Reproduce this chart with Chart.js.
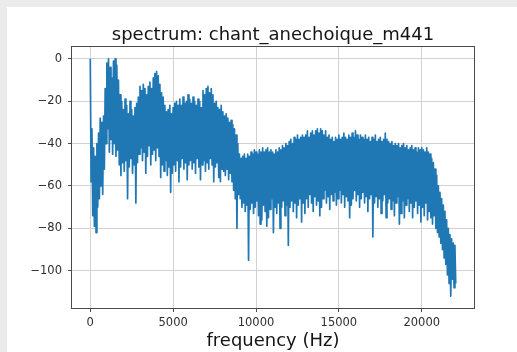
<!DOCTYPE html>
<html>
<head>
<meta charset="utf-8">
<script src="https://cdn.jsdelivr.net/npm/chart.js@4/dist/chart.umd.min.js"></script>
<style>
  html, body { margin: 0; padding: 0; background: #ebebeb; width: 517px; height: 352px; overflow: hidden; }
  #card { position: absolute; left: 7px; top: 7px; width: 510px; height: 345px; background: #ffffff; }
  canvas { display: block; }
</style>
</head>
<body>
<div id="card"><canvas id="spectrum" width="510" height="345"></canvas></div>
<script>
// FFT bin spacing: samples alternate between a local peak and a local dip
const BIN_HZ = 50;

// Magnitude (dB) at the peak bins: 0, 100, 200 ... 22000 Hz
const peakDb = [
  0, -33, -42, -46, -40, -35, -28, -30, -27, -14,
  -2, 0, -4, -9, -1, 0, -3, -10, -17, -20,
  -24, -19, -22, -26, -20, -24, -27, -23, -21, -18,
  -13, -15, -12, -14, -17, -13, -11, -14, -9, -7,
  -6, -8, -12, -16, -18, -22, -25, -24, -22, -26,
  -23, -21, -20, -22, -19, -22, -18, -21, -20, -17,
  -19, -21, -18, -20, -22, -19, -20, -23, -15, -17,
  -14, -13, -16, -14, -17, -21, -20, -23, -24, -22,
  -25, -27, -26, -28, -30, -29, -31, -33, -36, -40,
  -45, -47, -46, -45, -47, -45, -46, -44, -45, -43,
  -44, -45, -43, -44, -42, -44, -43, -42, -44, -43,
  -44, -45, -43, -44, -42, -43, -41, -42, -40, -41,
  -39, -38, -40, -37, -38, -36, -38, -37, -36, -37,
  -36, -34, -37, -35, -34, -36, -34, -33, -35, -33,
  -34, -36, -34, -37, -36, -38, -37, -39, -37, -38,
  -36, -38, -37, -35, -37, -38, -36, -37, -35, -37,
  -34, -36, -38, -36, -37, -38, -36, -38, -37, -39,
  -37, -38, -36, -39, -38, -37, -39, -38, -35, -38,
  -39, -40, -39, -41, -40, -41, -40, -42, -41, -40,
  -42, -41, -43, -42, -41, -43, -42, -44, -42, -43,
  -42, -43, -44, -42, -44, -45, -47, -49, -52, -55,
  -60, -63, -66, -69, -72, -76, -80, -83, -85, -87, -88
];

// Magnitude (dB) at the dip bins: 50, 150, 250 ... 22050 Hz
const dipDb = [
  -58, -74, -79, -82, -70, -66, -60, -64, -52, -40,
  -33, -44, -38, -45, -40, -46, -43, -50, -55, -49,
  -53, -48, -66, -51, -47, -54, -50, -68, -49, -45,
  -42, -48, -44, -54, -46, -41, -50, -45, -43, -48,
  -42, -46, -56, -50, -53, -48, -55, -51, -63, -54,
  -50, -53, -48, -58, -51, -47, -52, -49, -57, -50,
  -48, -52, -49, -54, -47, -51, -57, -50, -48, -53,
  -49, -52, -47, -50, -58, -51, -49, -56, -58, -52,
  -53, -55, -52, -57, -54, -58, -62, -66, -80, -64,
  -66, -70, -68, -72, -69, -95, -71, -68, -73, -70,
  -67, -74, -78, -76, -69, -72, -79, -75, -71, -66,
  -82, -70, -73, -68, -80, -70, -67, -74, -69, -88,
  -70, -67, -72, -68, -75, -69, -66, -77, -68, -73,
  -66, -70, -64, -68, -72, -65, -69, -67, -74, -70,
  -66, -62, -68, -65, -71, -64, -67, -63, -69, -66,
  -62, -68, -64, -70, -65, -67, -75, -69, -66, -62,
  -67, -64, -70, -66, -63, -68, -65, -72, -66, -64,
  -84, -68, -65, -70, -66, -73, -67, -64, -75, -68,
  -66, -71, -67, -74, -68, -65, -78, -73, -67, -75,
  -69, -66, -72, -68, -75, -70, -67, -73, -69, -77,
  -70, -74, -68, -76, -72, -75, -78, -74, -80, -82,
  -84, -87, -90, -94, -97, -102, -106, -112, -104, -108, -106
];

const freqTicks = [0, 5000, 10000, 15000, 20000];
const dbTicks = [-100, -80, -60, -40, -20, 0];

// Interleave peaks and dips into one spectrum trace
const spectrum = [];
for (let i = 0; i < peakDb.length; i++) {
  spectrum.push({ x: (2 * i) * BIN_HZ, y: peakDb[i] });
  spectrum.push({ x: (2 * i + 1) * BIN_HZ, y: dipDb[i] });
}

const FONT = "'DejaVu Sans', sans-serif";

// Dark frame around the plotting area
const axesFrame = {
  id: 'axesFrame',
  afterDatasetsDraw(chart) {
    const { ctx, chartArea: a } = chart;
    ctx.save();
    ctx.strokeStyle = '#4a4a4a';
    ctx.lineWidth = 1;
    ctx.strokeRect(Math.round(a.left) - 0.5, Math.round(a.top) - 0.5,
                   Math.round(a.right - a.left) + 1, Math.round(a.bottom - a.top) + 1);
    ctx.restore();
  }
};

new Chart(document.getElementById('spectrum'), {
  type: 'line',
  data: {
    datasets: [{
      data: spectrum,
      borderColor: '#1f77b4',
      borderWidth: 1.7,
      borderJoinStyle: 'round',
      pointRadius: 0,
      tension: 0,
      fill: false
    }]
  },
  options: {
    responsive: false,
    animation: false,
    devicePixelRatio: 1,
    parsing: false,
    normalized: true,
    layout: { padding: { left: 0, right: 43, top: 0, bottom: 0 } },
    plugins: {
      legend: { display: false },
      tooltip: { enabled: false },
      title: {
        display: true,
        fullSize: false,
        text: 'spectrum: chant_anechoique_m441',
        color: '#151515',
        font: { family: FONT, size: 18, weight: 'normal' },
        padding: { top: 18, bottom: 0.4 }
      }
    },
    scales: {
      x: {
        type: 'linear',
        min: -1102.5,
        max: 23152.5,
        afterBuildTicks: s => { s.ticks = freqTicks.map(v => ({ value: v })); },
        afterFit: s => { s.height = 44; },
        border: { display: false },
        grid: { color: '#d2d2d2', lineWidth: 1, drawTicks: true, tickLength: 4, tickColor: '#4a4a4a', tickWidth: 1 },
        ticks: { color: '#2e2e2e', font: { family: FONT, size: 11.5 }, padding: 4, maxRotation: 0, autoSkip: false,
                 callback: v => String(v) },
        title: { display: true, text: 'frequency (Hz)', color: '#151515',
                 font: { family: FONT, size: 18 }, padding: { top: 0, bottom: 0 } }
      },
      y: {
        type: 'linear',
        min: -117.6,
        max: 5.6,
        afterBuildTicks: s => { s.ticks = dbTicks.map(v => ({ value: v })); },
        afterFit: s => { s.width = 65; },
        border: { display: false },
        grid: { color: '#d2d2d2', lineWidth: 1, drawTicks: true, tickLength: 4, tickColor: '#4a4a4a', tickWidth: 1 },
        ticks: { color: '#2e2e2e', font: { family: FONT, size: 11.5 }, padding: 6, autoSkip: false,
                 callback: v => (v < 0 ? '\u2212' + Math.abs(v) : String(v)) }
      }
    }
  },
  plugins: [axesFrame]
});
</script>
</body>
</html>
